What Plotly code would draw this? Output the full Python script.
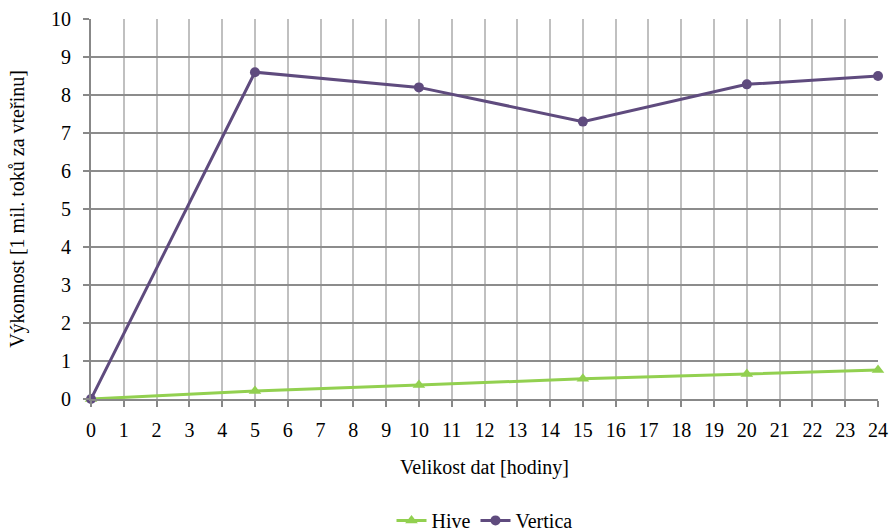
import plotly.graph_objects as go

hours = [0, 5, 10, 15, 20, 24]
hive = [0.0, 0.21, 0.37, 0.53, 0.66, 0.76]
vertica = [0.0, 8.6, 8.2, 7.3, 8.28, 8.5]
x_ticks = list(range(0, 25))
y_ticks = list(range(0, 11))

font = "'Liberation Serif', 'Times New Roman', Times, serif"

fig = go.Figure()
fig.add_trace(go.Scatter(
    x=hours, y=hive, name="Hive", mode="lines+markers",
    line=dict(color="#92D050", width=3),
    marker=dict(symbol="triangle-up", size=11, color="#92D050"),
    cliponaxis=False,
))
fig.add_trace(go.Scatter(
    x=hours, y=vertica, name="Vertica", mode="lines+markers",
    line=dict(color="#5F4B7E", width=3),
    marker=dict(symbol="circle", size=10, color="#5F4B7E"),
    cliponaxis=False,
))

fig.update_layout(
    width=889, height=531,
    margin=dict(l=91, r=11, t=19, b=132),
    paper_bgcolor="white", plot_bgcolor="white",
    font=dict(family=font, size=20, color="#000"),
    showlegend=True,
    legend=dict(orientation="h", x=0.5, xanchor="center",
                yref="container", y=0.02, yanchor="middle",
                font=dict(family=font, size=20), itemwidth=30),
    xaxis=dict(
        range=[0, 24], tickvals=x_ticks, ticktext=[str(v) for v in x_ticks],
        showgrid=True, gridcolor="#C0C0C0", gridwidth=2,
        showline=True, linecolor="#888888", linewidth=2,
        ticks="outside", ticklen=6, tickcolor="#888888", tickwidth=2,
        tickfont=dict(family=font, size=20), ticklabelstandoff=6,
        title=dict(text="Velikost dat [hodiny]", standoff=20, font=dict(family=font, size=20)),
        zeroline=False, automargin=False,
    ),
    yaxis=dict(
        range=[0, 10], tickvals=y_ticks,
        showgrid=True, gridcolor="#8C8C8C", gridwidth=2,
        showline=True, linecolor="#888888", linewidth=2,
        ticks="outside", ticklen=6, tickcolor="#888888", tickwidth=2,
        tickfont=dict(family=font, size=20), ticklabelstandoff=8,
        title=dict(text="Výkonnost [1 mil. toků za vteřinu]", standoff=21, font=dict(family=font, size=20)),
        zeroline=False, automargin=False,
    ),
)

fig.write_html("out.html")
